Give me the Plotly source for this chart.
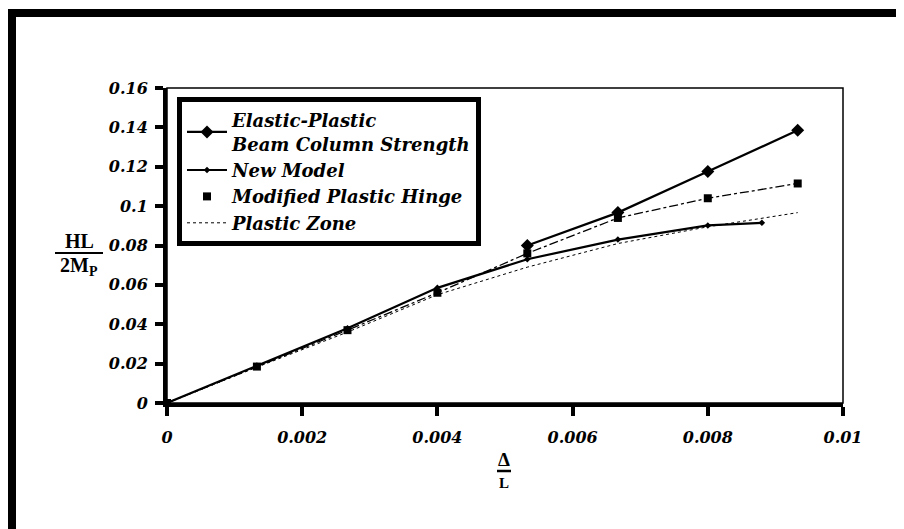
import plotly.graph_objects as go

# ---- data ----
ep_x = [0.00533, 0.00667, 0.008, 0.00933]
ep_y = [0.080, 0.0967, 0.1176, 0.1385]

nm_x = [0, 0.00133, 0.00267, 0.004, 0.00533, 0.00667, 0.008, 0.0088]
nm_y = [0, 0.019, 0.038, 0.0585, 0.073, 0.083, 0.0902, 0.0915]

mph_x = [0, 0.00133, 0.00267, 0.004, 0.00533, 0.00667, 0.008, 0.00933]
mph_y = [0, 0.0185, 0.037, 0.056, 0.076, 0.094, 0.104, 0.1115]

pz_x = [0, 0.00133, 0.00267, 0.004, 0.00533, 0.00667, 0.008, 0.00933]
pz_y = [0, 0.0182, 0.036, 0.055, 0.069, 0.081, 0.0895, 0.0967]

x_ticks = [0, 0.002, 0.004, 0.006, 0.008, 0.01]
x_labels = ["0", "0.002", "0.004", "0.006", "0.008", "0.01"]
y_ticks = [0, 0.02, 0.04, 0.06, 0.08, 0.1, 0.12, 0.14, 0.16]
y_labels = ["0", "0.02", "0.04", "0.06", "0.08", "0.1", "0.12", "0.14", "0.16"]

names = ["Elastic-Plastic<br>Beam Column Strength", "New Model",
         "Modified Plastic Hinge", "Plastic Zone"]

SERIF = "Liberation Serif, Times New Roman, serif"
WIDE = "DejaVu Serif, serif"

fig = go.Figure()
fig.add_trace(go.Scatter(x=ep_x, y=ep_y, mode="lines+markers", name=names[0],
                         line=dict(color="black", width=2.2),
                         marker=dict(symbol="diamond", size=10, color="black")))
fig.add_trace(go.Scatter(x=nm_x, y=nm_y, mode="lines+markers", name=names[1],
                         line=dict(color="black", width=2.2),
                         marker=dict(symbol="diamond", size=5, color="black")))
fig.add_trace(go.Scatter(x=mph_x, y=mph_y, mode="lines", showlegend=False,
                         line=dict(color="black", width=1.3, dash="dashdot")))
fig.add_trace(go.Scatter(x=mph_x, y=mph_y, mode="markers", name=names[2],
                         marker=dict(symbol="square", size=8, color="black")))
fig.add_trace(go.Scatter(x=pz_x, y=pz_y, mode="lines", name=names[3],
                         line=dict(color="black", width=1, dash="dot")))

# screen layout (page body has an 8 px margin)
OFF = 8
L, R, T, B = 167, 843, 88, 403
W, H = 904 - OFF, 529 - OFF
pw, ph = R - L, B - T

def px(xp):
    return (xp - L) / pw

def py(yp):
    return (B - yp) / ph

shapes = [
    dict(type="rect", xref="paper", yref="paper", x0=0, x1=1, y0=0, y1=1,
         line=dict(color="black", width=1.5)),
    dict(type="line", xref="paper", yref="paper", x0=px(12), x1=px(12),
         y0=py(560), y1=py(9), line=dict(color="black", width=8)),
    dict(type="line", xref="paper", yref="paper", x0=px(8), x1=px(920),
         y0=py(13), y1=py(13), line=dict(color="black", width=8)),
    dict(type="line", xref="paper", yref="paper", x0=px(55), x1=px(103),
         y0=py(253), y1=py(253), line=dict(color="black", width=2)),
    dict(type="line", xref="paper", yref="paper", x0=px(497), x1=px(511),
         y0=py(471), y1=py(471), line=dict(color="black", width=2.5)),
]

annotations = [
    dict(xref="paper", yref="paper", x=px(79), y=py(241), text="<b>HL</b>",
         showarrow=False, font=dict(family=SERIF, size=20, color="black"),
         xanchor="center", yanchor="middle"),
    dict(xref="paper", yref="paper", x=px(79), y=py(266), text="<b>2M<sub>P</sub></b>",
         showarrow=False, font=dict(family=SERIF, size=20, color="black"),
         xanchor="center", yanchor="middle"),
    dict(xref="paper", yref="paper", x=px(504), y=py(459), text="<b>Δ</b>",
         showarrow=False, font=dict(family=SERIF, size=19, color="black"),
         xanchor="center", yanchor="middle"),
    dict(xref="paper", yref="paper", x=px(504), y=py(483), text="<b>L</b>",
         showarrow=False, font=dict(family=SERIF, size=15, color="black"),
         xanchor="center", yanchor="middle"),
]

tickfont = dict(family=WIDE, size=16, color="black", style="italic", weight="bold")

fig.update_layout(
    width=W, height=H,
    margin=dict(l=L - OFF, r=W - (R - OFF), t=T - OFF, b=H - (B - OFF), autoexpand=False),
    paper_bgcolor="white", plot_bgcolor="white",
    showlegend=True,
    legend=dict(x=px(177), y=py(97), xanchor="left", yanchor="top",
                bgcolor="white", bordercolor="black", borderwidth=5,
                font=dict(family=WIDE, size=18, color="black",
                          style="italic", weight="bold"),
                tracegroupgap=0, itemwidth=40),
    shapes=shapes, annotations=annotations,
    xaxis=dict(range=[0, 0.01], tickvals=x_ticks, ticktext=x_labels,
               showgrid=False, zeroline=False, showline=True,
               linecolor="black", linewidth=4, ticks="outside",
               ticklen=9, tickwidth=4, tickcolor="black",
               tickfont=tickfont, ticklabelstandoff=8),
    yaxis=dict(range=[0, 0.16], tickvals=y_ticks, ticktext=y_labels,
               showgrid=False, zeroline=False, showline=True,
               linecolor="black", linewidth=4, ticks="outside",
               ticklen=8, tickwidth=4, tickcolor="black",
               tickfont=tickfont, ticklabelstandoff=4),
)

fig.write_html("out.html")
